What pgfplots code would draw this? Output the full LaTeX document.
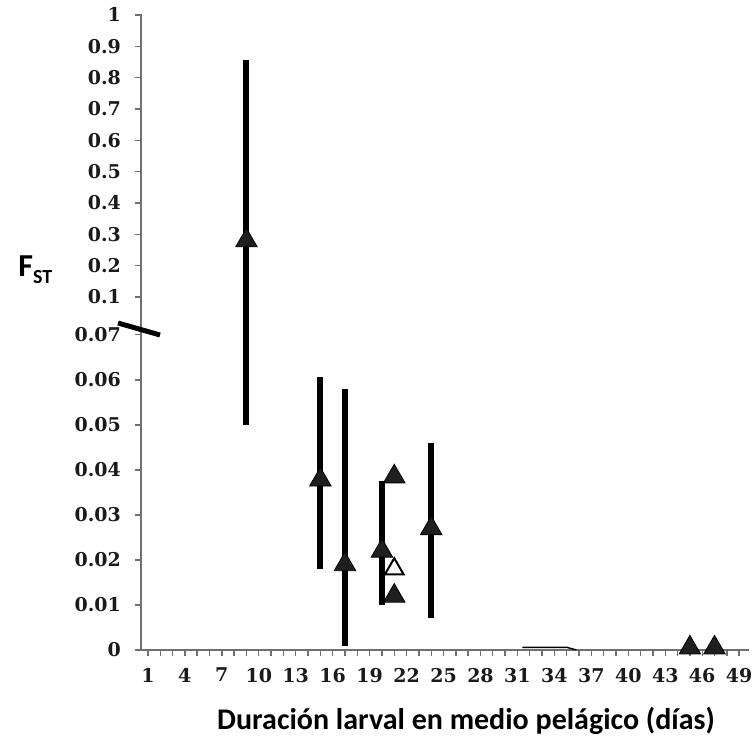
\documentclass[border=0pt]{standalone}
\usepackage{fontspec}
\usepackage{pgfplots}
\pgfplotsset{compat=1.18}
\newfontfamily\tickfont{DejaVu Serif}
\newfontfamily\labfont{Carlito}
\definecolor{axgray}{HTML}{707070}
\definecolor{ticktext}{HTML}{1A1A1A}

\begin{document}
\begin{tikzpicture}
\path[use as bounding box] (0,0) rectangle (378pt,368pt);
\begin{axis}[
  at={(70.5pt,43pt)}, anchor=south west,
  scale only axis, width=304pt, height=318pt,
  xmin=0.44, xmax=49.8, ymin=0, ymax=1.003,
  y coord trafo/.code={\pgfmathparse{((#1)<0.0705)*100*(#1) + ((#1)>0.0705)*((#1)<0.0995)*(7+28*((#1)-0.07)) + ((#1)>0.0995)*(7.84+6.96*((#1)-0.1))}},
  axis x line=bottom, axis y line=left,
  axis line style={draw=axgray, line width=0.8pt, -},
  tick align=outside,
  major tick length=3pt, minor tick length=3pt,
  every tick/.style={draw=axgray, line width=0.7pt},
  xtick={1,4,7,10,13,16,19,22,25,28,31,34,37,40,43,46,49},
  xticklabels={1,4,7,10,13,16,19,22,25,28,31,34,37,40,43,46,49},
  minor xtick={1,2,...,50},
  ytick={0,0.01,0.02,0.03,0.04,0.05,0.06,0.07,0.1,0.2,0.3,0.4,0.5,0.6,0.7,0.8,0.9,1},
  yticklabels={0,0.01,0.02,0.03,0.04,0.05,0.06,0.07,0.1,0.2,0.3,0.4,0.5,0.6,0.7,0.8,0.9,1},
  tick label style={font=\tickfont\bfseries\fontsize{9.5}{10}\selectfont, text=ticktext},
  yticklabel style={xshift=-3.5pt},
  xticklabel style={yshift=-2.5pt},
  clip=false,
]
% vertical ranges
\addplot[black, line width=3pt, line cap=butt] coordinates {(9,0.05) (9,0.857)};
\addplot[black, line width=3pt, line cap=butt] coordinates {(15,0.018) (15,0.0607)};
\addplot[black, line width=3pt, line cap=butt] coordinates {(17,0.001) (17,0.058)};
\addplot[black, line width=3pt, line cap=butt] coordinates {(20,0.010) (20,0.0376)};
\addplot[black, line width=3pt, line cap=butt] coordinates {(24,0.007) (24,0.046)};
% small trace near the axis
\addplot[black, line width=0.7pt] coordinates {(31.4,0.0006) (35,0.0006) (35.8,0.0)};
% filled triangles
\addplot[only marks, mark=triangle*, mark size=6.2pt, mark options={fill=black!88, draw=black}] coordinates {
(9,0.28) (15,0.0378) (17,0.019) (20,0.022) (21,0.0385) (21,0.012) (24,0.027) (45,0.0005) (47,0.0005)};
% open triangle
\addplot[only marks, mark=triangle*, mark size=5.4pt, mark options={fill=white, draw=black, line width=1pt}] coordinates {(21,0.018)};
\end{axis}
% axis break mark
\draw[black, line width=2.5pt] (59pt,206.5pt) -- (80pt,200.5pt);
% y label
\node[anchor=base west, inner sep=0pt, font=\labfont\bfseries\fontsize{16}{18}\selectfont] at (9pt,230pt) {F\raisebox{-3.5pt}{\fontsize{10}{12}\selectfont ST}};
% x label
\node[anchor=base, inner sep=0pt, font=\labfont\bfseries\fontsize{15}{18}\selectfont] at (233pt,3.5pt) {Duración larval en medio pelágico (días)};
\end{tikzpicture}
\end{document}
